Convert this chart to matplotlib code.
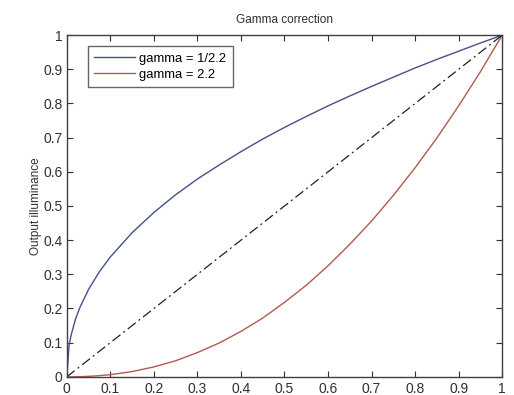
import matplotlib.pyplot as plt

# values
x = [0, 0.005, 0.01, 0.02, 0.03, 0.05, 0.075, 0.1, 0.15, 0.2, 0.25, 0.3, 0.35, 0.4,
     0.45, 0.5, 0.55, 0.6, 0.65, 0.7, 0.75, 0.8, 0.85, 0.9, 0.95, 1.0]
y_low = [0, 0.090, 0.123, 0.169, 0.203, 0.256, 0.308, 0.351, 0.422, 0.481, 0.533,
         0.579, 0.620, 0.659, 0.696, 0.730, 0.762, 0.793, 0.822, 0.850, 0.877,
         0.904, 0.929, 0.953, 0.977, 1.0]
y_high = [0, 0.0, 0.0, 0.0002, 0.0005, 0.0014, 0.0034, 0.0063, 0.0154, 0.029, 0.047,
          0.071, 0.099, 0.133, 0.172, 0.218, 0.268, 0.325, 0.388, 0.456, 0.531,
          0.612, 0.699, 0.793, 0.893, 1.0]
diag_x = [0, 1]
diag_y = [0, 1]

ticks = [0, 0.1, 0.2, 0.3, 0.4, 0.5, 0.6, 0.7, 0.8, 0.9, 1]
tick_labels = ["0", "0.1", "0.2", "0.3", "0.4", "0.5", "0.6", "0.7", "0.8", "0.9", "1"]

plt.rcParams["font.family"] = ["Liberation Sans", "DejaVu Sans"]

fig = plt.figure(figsize=(5.14, 3.95), dpi=100)
ax = fig.add_axes([0.130, 0.046, 0.847, 0.865])

ax.plot(x, y_low, color="#45508a", lw=1.0, label="gamma = 1/2.2")
ax.plot(x, y_high, color="#b35a4e", lw=1.0, label="gamma = 2.2")
ax.plot(diag_x, diag_y, color="#202020", lw=0.9, ls=(0, (8, 3, 1.5, 3)))

ax.set_xlim(0, 1)
ax.set_ylim(0, 1)
ax.set_xticks(ticks)
ax.set_xticklabels(tick_labels)
ax.set_yticks(ticks)
ax.set_yticklabels(tick_labels)
ax.tick_params(direction="in", length=4, width=0.8, top=True, right=True,
               labelsize=10, colors="#303030", pad=3)
ax.tick_params(axis="x", pad=4)
for s in ax.spines.values():
    s.set_color("#404040")
    s.set_linewidth(1.0)

ax.set_title("Gamma correction", fontsize=8.5, color="#303030", pad=9)
ax.set_ylabel("Output illuminance", fontsize=8.5, color="#303030", labelpad=1)

leg = ax.legend(loc="upper left", bbox_to_anchor=(0.048, 0.968), fontsize=9.4,
                frameon=True, fancybox=False, borderpad=0.5, handlelength=3.1,
                labelspacing=0.3, handletextpad=0.35, borderaxespad=0)
leg.get_frame().set_edgecolor("#404040")
leg.get_frame().set_linewidth(1.0)

fig.savefig("out.png", dpi=100)
